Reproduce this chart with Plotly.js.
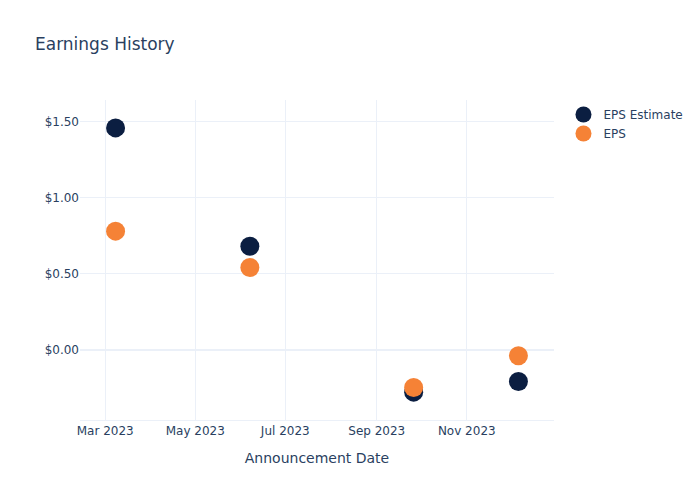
<!DOCTYPE html>
<html>
<head>
<meta charset="utf-8">
<script src="https://cdn.plot.ly/plotly-3.0.1.min.js"></script>
<style>html,body{margin:0;padding:0;background:#fff;}#chart{width:700px;height:500px;}</style>
</head>
<body>
<div id="chart"></div>
<script>
const dates = ["2023-03-08", "2023-06-07", "2023-09-26", "2023-12-06"];
const epsEstimate = [1.46, 0.68, -0.28, -0.21];
const eps = [0.78, 0.54, -0.25, -0.04];

const traces = [
  {
    x: dates, y: epsEstimate, mode: "markers", type: "scatter", name: "EPS Estimate",
    marker: {color: "#0B1E41", size: 19}
  },
  {
    x: dates, y: eps, mode: "markers", type: "scatter", name: "EPS",
    marker: {color: "#F58236", size: 19}
  }
];

const gridc = "#EBF0F8";
const layout = {
  width: 700, height: 500,
  paper_bgcolor: "#fff", plot_bgcolor: "#fff",
  font: {family: "'DejaVu Sans', verdana, sans-serif", color: "#2a3f5f", size: 12},
  title: {text: "Earnings History", x: 0.05, xanchor: "left", font: {size: 17}},
  margin: {l: 80, r: 146, t: 100, b: 80},
  xaxis: {
    type: "date",
    title: {text: "Announcement Date", font: {size: 14}, standoff: 15},
    gridcolor: gridc, linecolor: gridc, zeroline: false,
    tickformat: "%b %Y", dtick: "M2", tick0: "2023-01-01",
    automargin: false
  },
  yaxis: {
    gridcolor: gridc, zerolinecolor: gridc, zerolinewidth: 2,
    tickprefix: "$", tickformat: ".2f", dtick: 0.5,
    automargin: false
  },
  legend: {font: {size: 12}},
  showlegend: true
};

Plotly.newPlot("chart", traces, layout, {displayModeBar: false});
</script>
</body>
</html>
